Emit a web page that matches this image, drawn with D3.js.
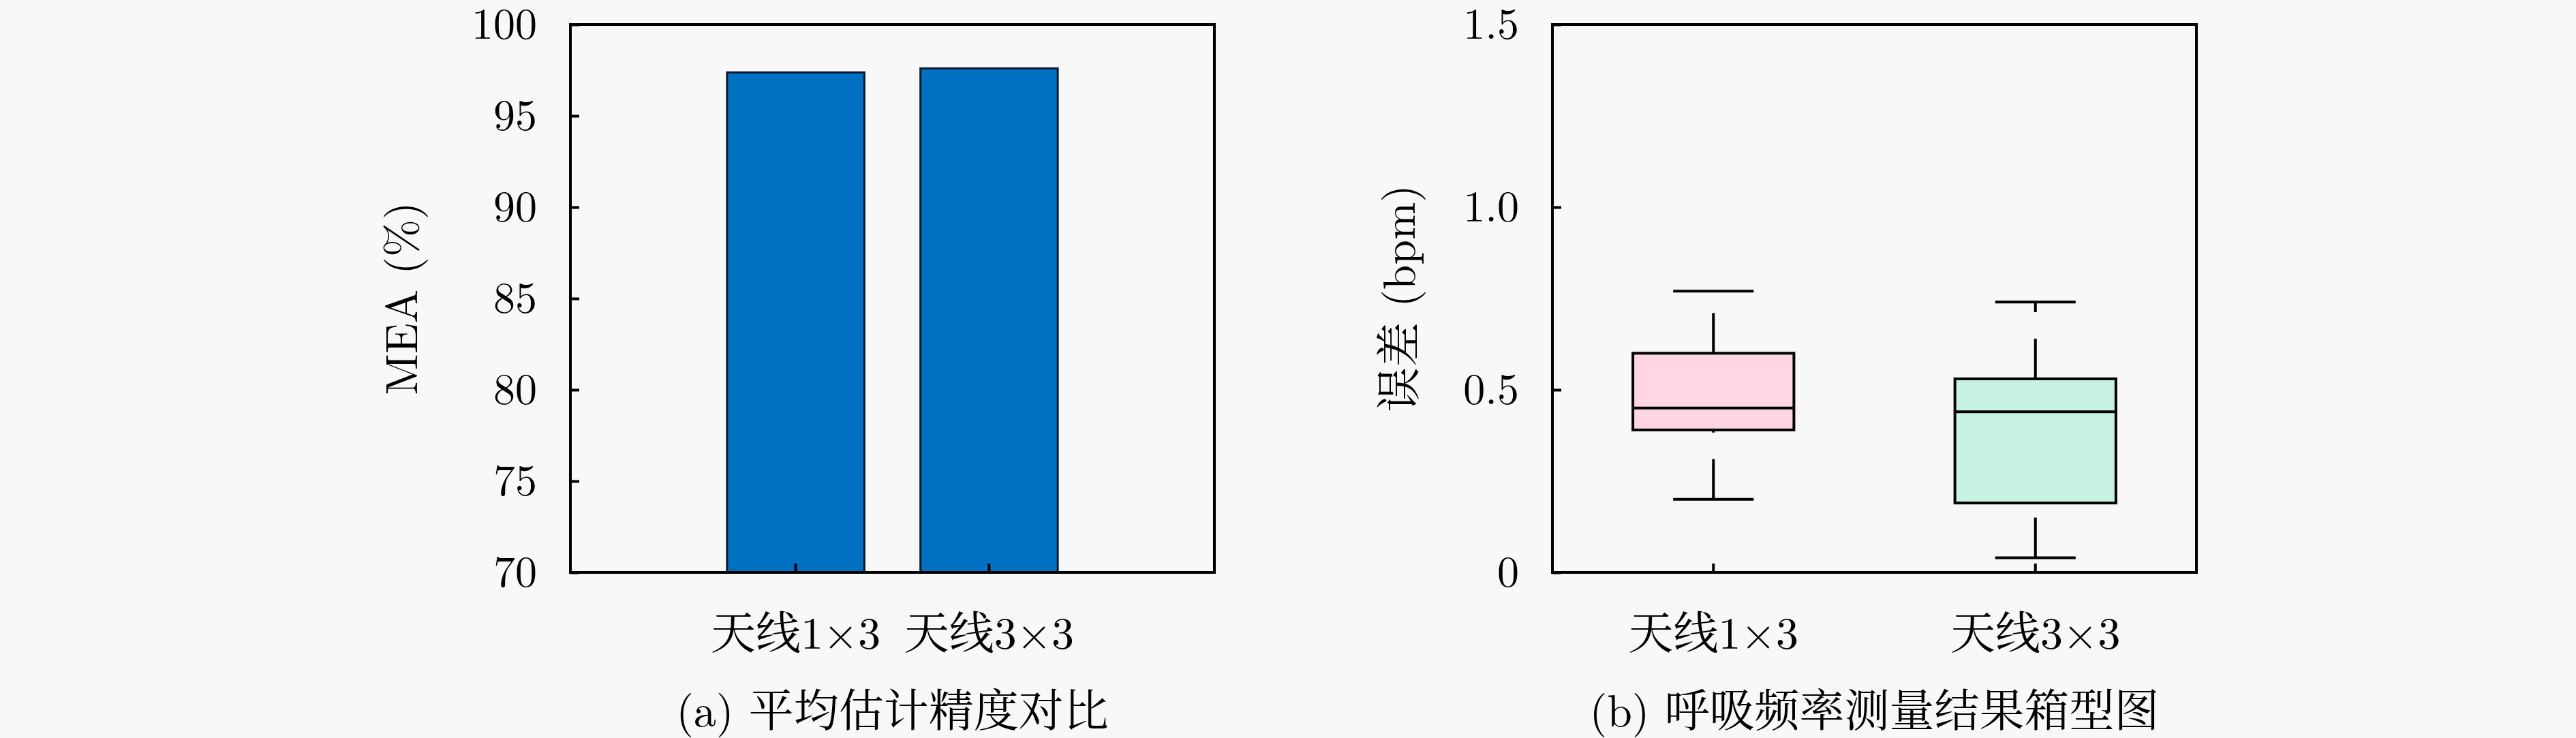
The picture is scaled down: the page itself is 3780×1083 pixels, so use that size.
<!DOCTYPE html>
<html>
<head>
<meta charset="utf-8">
<script src="https://cdn.jsdelivr.net/npm/d3@7"></script>
<style>
  body { margin: 0; background: #f8f8f8; }
  text { font-family: "Latin Modern Roman", "CMU Serif", "Liberation Serif", "Noto Serif CJK SC", "Noto Sans CJK SC", serif; fill: #000; }
</style>
</head>
<body>
<div id="chart-area"></div>
<script>
//Data
var categories = ["天线1×3", "天线3×3"];
var meaValues = [97.38, 97.60];
var yTicksA = [70, 75, 80, 85, 90, 95, 100];

var lowerWhisker = [0.20, 0.04];
var q1Values = [0.39, 0.19];
var medianValues = [0.45, 0.44];
var q3Values = [0.60, 0.53];
var upperWhisker = [0.77, 0.74];
var yTicksB = [0, 0.5, 1.0, 1.5];
var yTickLabelsB = ["0", "0.5", "1.0", "1.5"];
var boxColors = ["#ffd6e1", "#c7f2e2"];

var captionA = "(a) 平均估计精度对比";
var captionB = "(b) 呼吸频率测量结果箱型图";
var yLabelA = "MEA (%)";
var yLabelB = "误差 (bpm)";

//Canvas
var W = 3780, H = 1083;
var marginTop = 36, height = 804, width = 945;
var leftA = 837, leftB = 2278;

var svg = d3.select("#chart-area").append("svg")
    .attr("width", W)
    .attr("height", H);

function frame(g) {
    g.append("rect")
        .attr("x", 0).attr("y", 0)
        .attr("width", width).attr("height", height)
        .attr("fill", "none")
        .attr("stroke", "#000")
        .attr("stroke-width", 4);
}

function styleAxis(ax, fontSize) {
    ax.select(".domain").remove();
    ax.selectAll(".tick line").attr("stroke", "#000").attr("stroke-width", 4);
    ax.selectAll(".tick text").attr("font-size", fontSize + "px");
}

function labels(g, yLabel, yLabelOffset, caption) {
    g.append("text")
        .attr("transform", "translate(" + (-yLabelOffset) + "," + (height / 2) + ") rotate(-90)")
        .attr("text-anchor", "middle")
        .attr("font-size", "66px")
        .text(yLabel);
    g.append("text")
        .attr("x", width / 2)
        .attr("y", 1066 - marginTop)
        .attr("text-anchor", "middle")
        .attr("font-size", "66px")
        .text(caption);
}

// ---------- (a) bar chart ----------
var gA = svg.append("g")
    .attr("transform", "translate(" + leftA + "," + marginTop + ")");

var xA = d3.scaleBand().domain(categories).range([0, width])
    .paddingInner(0.29).paddingOuter(0.81);
var yA = d3.scaleLinear().domain([70, 100]).range([height, 0]);

gA.selectAll(".bar")
    .data(meaValues)
    .enter().append("rect")
    .attr("class", "bar")
    .attr("x", function(d, i){ return xA(categories[i]); })
    .attr("y", function(d){ return yA(d); })
    .attr("width", xA.bandwidth())
    .attr("height", function(d){ return height - yA(d); })
    .attr("fill", "#0070c2")
    .attr("stroke", "#0a1a30")
    .attr("stroke-width", 3);

var yAxisA = gA.append("g")
    .call(d3.axisLeft(yA).tickValues(yTicksA).tickSize(-13).tickPadding(49));
styleAxis(yAxisA, 64);

var xAxisA = gA.append("g")
    .attr("transform", "translate(0," + height + ")")
    .call(d3.axisBottom(xA).tickSize(-13).tickPadding(0));
styleAxis(xAxisA, 66);
xAxisA.selectAll(".tick text").attr("y", 112).attr("dy", 0);

frame(gA);
labels(gA, yLabelA, 225, captionA);

// ---------- (b) box plot ----------
var gB = svg.append("g")
    .attr("transform", "translate(" + leftB + "," + marginTop + ")");

var xB = d3.scaleBand().domain(categories).range([0, width]).padding(0);
var yB = d3.scaleLinear().domain([0, 1.5]).range([height, 0]);
var boxW = xB.bandwidth() * 0.5, capW = xB.bandwidth() * 0.25;
function cx(i) { return xB(categories[i]) + xB.bandwidth() / 2; }

var boxes = gB.selectAll(".box")
    .data(categories)
    .enter().append("g")
    .attr("class", "box");

// whiskers, dashed, drawn from low value to high value
boxes.append("line")
    .attr("x1", function(d, i){ return cx(i); })
    .attr("x2", function(d, i){ return cx(i); })
    .attr("y1", function(d, i){ return yB(lowerWhisker[i]); })
    .attr("y2", function(d, i){ return yB(q1Values[i]); });
boxes.append("line")
    .attr("x1", function(d, i){ return cx(i); })
    .attr("x2", function(d, i){ return cx(i); })
    .attr("y1", function(d, i){ return yB(q3Values[i]); })
    .attr("y2", function(d, i){ return yB(upperWhisker[i]); });
boxes.selectAll("line")
    .attr("stroke", "#000")
    .attr("stroke-width", 4)
    .attr("stroke-dasharray", "59 39");

// caps
[lowerWhisker, upperWhisker].forEach(function(arr){
    boxes.append("line")
        .attr("x1", function(d, i){ return cx(i) - capW / 2; })
        .attr("x2", function(d, i){ return cx(i) + capW / 2; })
        .attr("y1", function(d, i){ return yB(arr[i]); })
        .attr("y2", function(d, i){ return yB(arr[i]); })
        .attr("stroke", "#000")
        .attr("stroke-width", 4);
});

// box
boxes.append("rect")
    .attr("x", function(d, i){ return cx(i) - boxW / 2; })
    .attr("y", function(d, i){ return yB(q3Values[i]); })
    .attr("width", boxW)
    .attr("height", function(d, i){ return yB(q1Values[i]) - yB(q3Values[i]); })
    .attr("fill", function(d, i){ return boxColors[i]; })
    .attr("stroke", "#000")
    .attr("stroke-width", 4);

// median
boxes.append("line")
    .attr("x1", function(d, i){ return cx(i) - boxW / 2; })
    .attr("x2", function(d, i){ return cx(i) + boxW / 2; })
    .attr("y1", function(d, i){ return yB(medianValues[i]); })
    .attr("y2", function(d, i){ return yB(medianValues[i]); })
    .attr("stroke", "#000")
    .attr("stroke-width", 4);

var yAxisB = gB.append("g")
    .call(d3.axisLeft(yB).tickValues(yTicksB).tickSize(-13).tickPadding(49)
        .tickFormat(function(d, i){ return yTickLabelsB[i]; }));
styleAxis(yAxisB, 64);

var xAxisB = gB.append("g")
    .attr("transform", "translate(0," + height + ")")
    .call(d3.axisBottom(xB).tickSize(-13).tickPadding(0));
styleAxis(xAxisB, 66);
xAxisB.selectAll(".tick text").attr("y", 112).attr("dy", 0);

frame(gB);
labels(gB, yLabelB, 202, captionB);
</script>
</body>
</html>
